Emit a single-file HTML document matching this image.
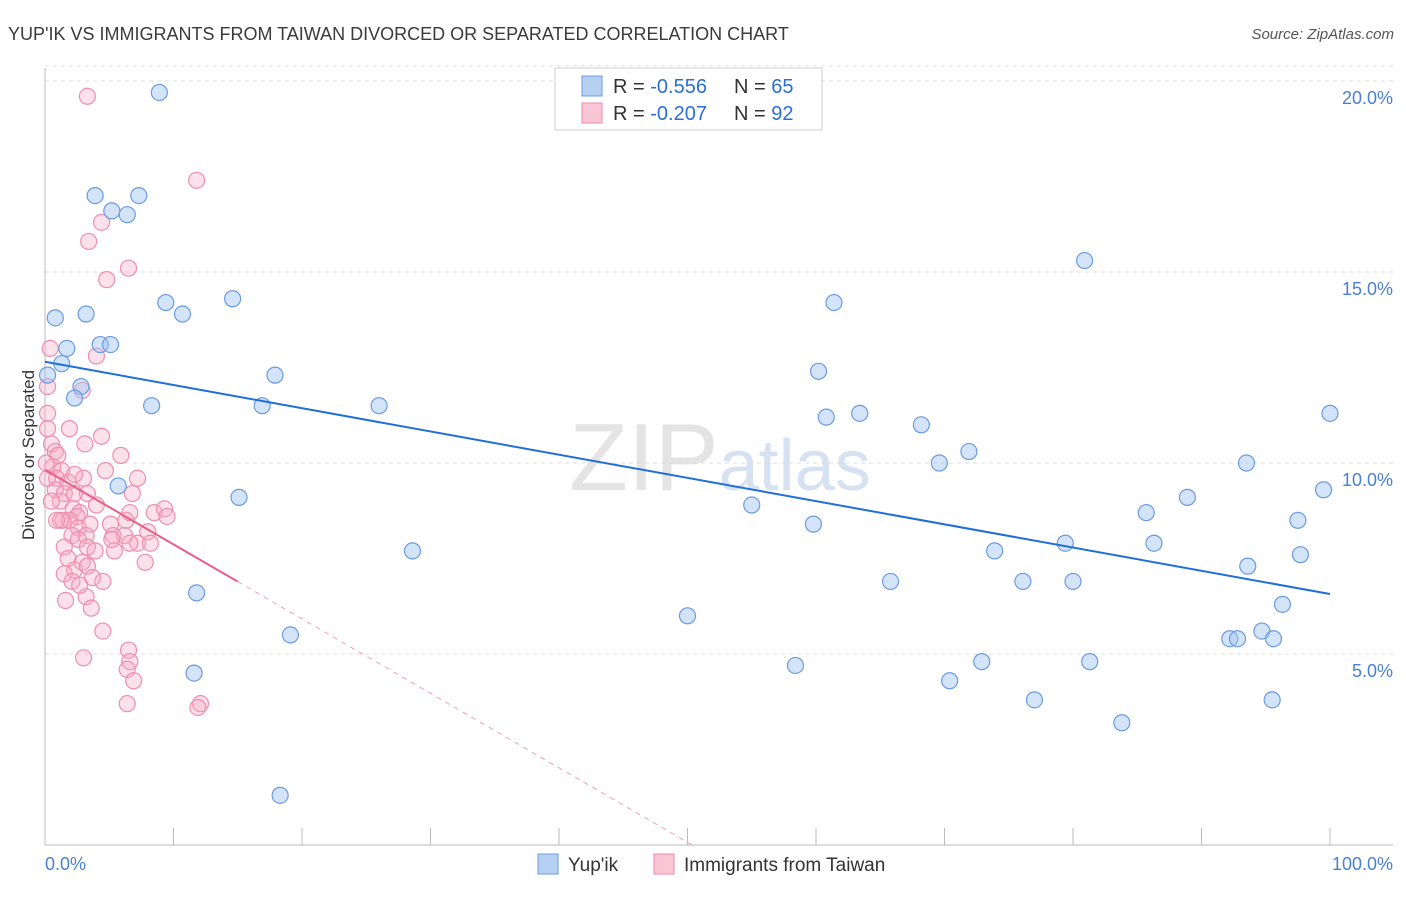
<!DOCTYPE html>
<html><head><meta charset="utf-8"><style>
body{margin:0;background:#fff;font-family:"Liberation Sans",sans-serif;}
svg text{font-family:"Liberation Sans",sans-serif;}
</style></head><body>
<svg width="1406" height="892" viewBox="0 0 1406 892">
<text x="8" y="40" font-size="18" fill="#3a3a3a">YUP'IK VS IMMIGRANTS FROM TAIWAN DIVORCED OR SEPARATED CORRELATION CHART</text>
<text x="1394" y="39" font-size="15" fill="#555" font-style="italic" text-anchor="end">Source: ZipAtlas.com</text>
<text x="720" y="490" font-size="96" fill="#e4e4e4" text-anchor="middle" font-family="Liberation Serif">ZIP<tspan fill="#d6e2f2" font-family="Liberation Sans" font-size="72">atlas</tspan></text>
<g id="grid"></g>
<g id="axes"></g>
<text transform="translate(34,455) rotate(-90)" font-size="17" fill="#333" text-anchor="middle">Divorced or Separated</text>
<g id="pts"></g>
<g id="trends"></g>
<g>
<rect x="555" y="68" width="267" height="62" fill="#fff" stroke="#ccc"/>
<rect x="582" y="76" width="20" height="20" fill="#b6d0f2" stroke="#6a9be0"/>
<rect x="582" y="103" width="20" height="20" fill="#f9c6d6" stroke="#ee88a8"/>
<text x="613" y="93" font-size="20" fill="#333">R = <tspan fill="#2a6fd6">-0.556</tspan><tspan x="734">N = </tspan><tspan fill="#2a6fd6">65</tspan></text>
<text x="613" y="120" font-size="20" fill="#333">R = <tspan fill="#2a6fd6">-0.207</tspan><tspan x="734">N = </tspan><tspan fill="#2a6fd6">92</tspan></text>
</g>
<g>
<rect x="538" y="854" width="20" height="20" fill="#b6d0f2" stroke="#6a9be0"/>
<text x="568" y="871" font-size="19" fill="#333">Yup'ik</text>
<rect x="654" y="854" width="20" height="20" fill="#f9c6d6" stroke="#ee88a8"/>
<text x="684" y="871" font-size="19" fill="#333">Immigrants from Taiwan</text>
</g>
</svg>
<script>
const yTicks=[5,10,15,20];
const yTickLabels=["5.0%","10.0%","15.0%","20.0%"];
const xTickLabels=["0.0%","100.0%"];
const blueX=[8.9,3.9,7.3,5.2,6.4,0.8,3.2,9.4,10.7,14.6,1.7,4.3,5.1,1.3,0.2,2.8,2.3,8.3,16.9,17.9,26.0,15.1,5.7,11.8,28.6,19.1,11.6,18.3,80.9,61.4,60.2,63.4,60.8,68.2,71.9,69.6,55.0,59.8,50.0,65.8,58.4,70.4,72.9,73.9,76.1,77.0,79.4,80.0,81.3,83.8,85.7,86.3,88.9,93.5,93.6,92.2,92.8,94.7,95.6,96.3,95.5,97.5,97.7,99.5,100];
const blueY=[19.7,17.0,17.0,16.6,16.5,13.8,13.9,14.2,13.9,14.3,13.0,13.1,13.1,12.6,12.3,12.0,11.7,11.5,11.5,12.3,11.5,9.1,9.4,6.6,7.7,5.5,4.5,1.3,15.3,14.2,12.4,11.3,11.2,11.0,10.3,10.0,8.9,8.4,6.0,6.9,4.7,4.3,4.8,7.7,6.9,3.8,7.9,6.9,4.8,3.2,8.7,7.9,9.1,10.0,7.3,5.4,5.4,5.6,5.4,6.3,3.8,8.5,7.6,9.3,11.3];
const pinkX=[3.3,11.8,4.4,3.4,6.5,4.8,4.0,2.9,0.4,0.2,0.2,0.2,1.9,0.5,0.8,1.0,3.1,4.4,5.9,0.6,1.3,0.9,1.8,3.0,4.7,7.2,0.8,1.5,2.3,3.3,6.8,1.2,2.2,2.7,2.5,1.4,1.9,1.2,3.5,2.6,5.1,6.3,8.5,9.3,9.5,6.6,3.2,2.1,2.6,5.3,6.2,8.0,7.2,8.2,1.5,3.3,3.9,5.4,1.8,2.9,2.3,1.5,3.3,3.7,7.8,2.1,3.2,3.6,4.5,3.0,6.5,6.6,6.4,6.9,6.4,12.1,11.9,0.1,0.2,0.5,6.6,0.9,4.5,5.2,4.0,2.7,1.6,2.3];
const pinkY=[19.6,17.4,16.3,15.8,15.1,14.8,12.8,11.9,13.0,12.0,11.3,10.9,10.9,10.5,10.3,10.2,10.5,10.7,10.2,9.9,9.8,9.6,9.5,9.6,9.8,9.6,9.3,9.2,9.2,9.2,9.2,9.0,8.8,8.7,8.6,8.5,8.5,8.5,8.4,8.3,8.4,8.5,8.7,8.8,8.6,8.7,8.1,8.1,8.0,8.1,8.1,8.2,7.9,7.9,7.8,7.8,7.7,7.7,7.5,7.4,7.2,7.1,7.3,7.0,7.4,6.9,6.5,6.2,5.6,4.9,5.1,4.8,4.6,4.3,3.7,3.7,3.6,10.0,9.6,9.0,7.9,8.5,6.9,8.0,8.9,6.8,6.4,9.7];
const blueTrend=[12.65,6.57];
const pinkTrend=[9.82,-0.195];
const pinkSolidEnd=15;

const NS="http://www.w3.org/2000/svg";
const X=v=>45+v*12.85;
const Y=v=>845-v*38.2;
function mk(tag,at,parent){const e=document.createElementNS(NS,tag);for(const k in at)e.setAttribute(k,at[k]);parent.appendChild(e);return e;}
const grid=document.getElementById('grid'),axes=document.getElementById('axes'),pts=document.getElementById('pts'),tr=document.getElementById('trends');
yTicks.forEach((t,i)=>{
 const l=mk('line',{x1:45,x2:1393,y1:Y(t),y2:Y(t),stroke:'#dcdcdc','stroke-dasharray':'4,4'},grid);
 
 
 const tx=mk('text',{x:1393,y:Y(t)+23,'font-size':18,fill:'#4a80d0','text-anchor':'end'},axes);
 tx.textContent=yTickLabels[i];
 
 
});
mk('line',{x1:45,x2:1393,y1:Y(20.4),y2:Y(20.4),stroke:'#e4e4e4','stroke-dasharray':'4,4'},grid);
mk('line',{x1:45,x2:45,y1:68,y2:845,stroke:'#bbb'},axes);
mk('line',{x1:45,x2:1393,y1:845,y2:845,stroke:'#bbb'},axes);
for(let i=0;i<=10;i++){const t=mk('line',{x1:X(i*10),x2:X(i*10),y1:828,y2:845,stroke:'#bbb'},axes);
 
 }
const xl0=mk('text',{x:45,y:870,'font-size':18,fill:'#4a80d0'},axes);xl0.textContent=xTickLabels[0];


const xl1=mk('text',{x:1393,y:870,'font-size':18,fill:'#4a80d0','text-anchor':'end'},axes);xl1.textContent=xTickLabels[1];


pinkX.forEach((v,i)=>{const c=mk('circle',{cx:X(v),cy:Y(pinkY[i]),r:8,fill:'rgba(247,170,196,0.35)',stroke:'#ee8fae','stroke-width':1.2},pts);
 
 });
blueX.forEach((v,i)=>{const c=mk('circle',{cx:X(v),cy:Y(blueY[i]),r:8,fill:'rgba(160,196,240,0.45)',stroke:'#6a9be0','stroke-width':1.2},pts);
 
 });
const bl=mk('line',{x1:X(0),y1:Y(blueTrend[0]),x2:X(100),y2:Y(blueTrend[1]),stroke:'#1f6fd6','stroke-width':2},tr);


const pz=-pinkTrend[0]/pinkTrend[1];
const pl=mk('line',{x1:X(0),y1:Y(pinkTrend[0]),x2:X(pinkSolidEnd),y2:Y(pinkTrend[0]+pinkTrend[1]*pinkSolidEnd),stroke:'#e8608a','stroke-width':2},tr);


const pd=mk('line',{x1:X(pinkSolidEnd),y1:Y(pinkTrend[0]+pinkTrend[1]*pinkSolidEnd),x2:X(pz),y2:Y(0),stroke:'#f0a0b8','stroke-width':1,'stroke-dasharray':'5,5'},tr);


</script>
</body></html>
